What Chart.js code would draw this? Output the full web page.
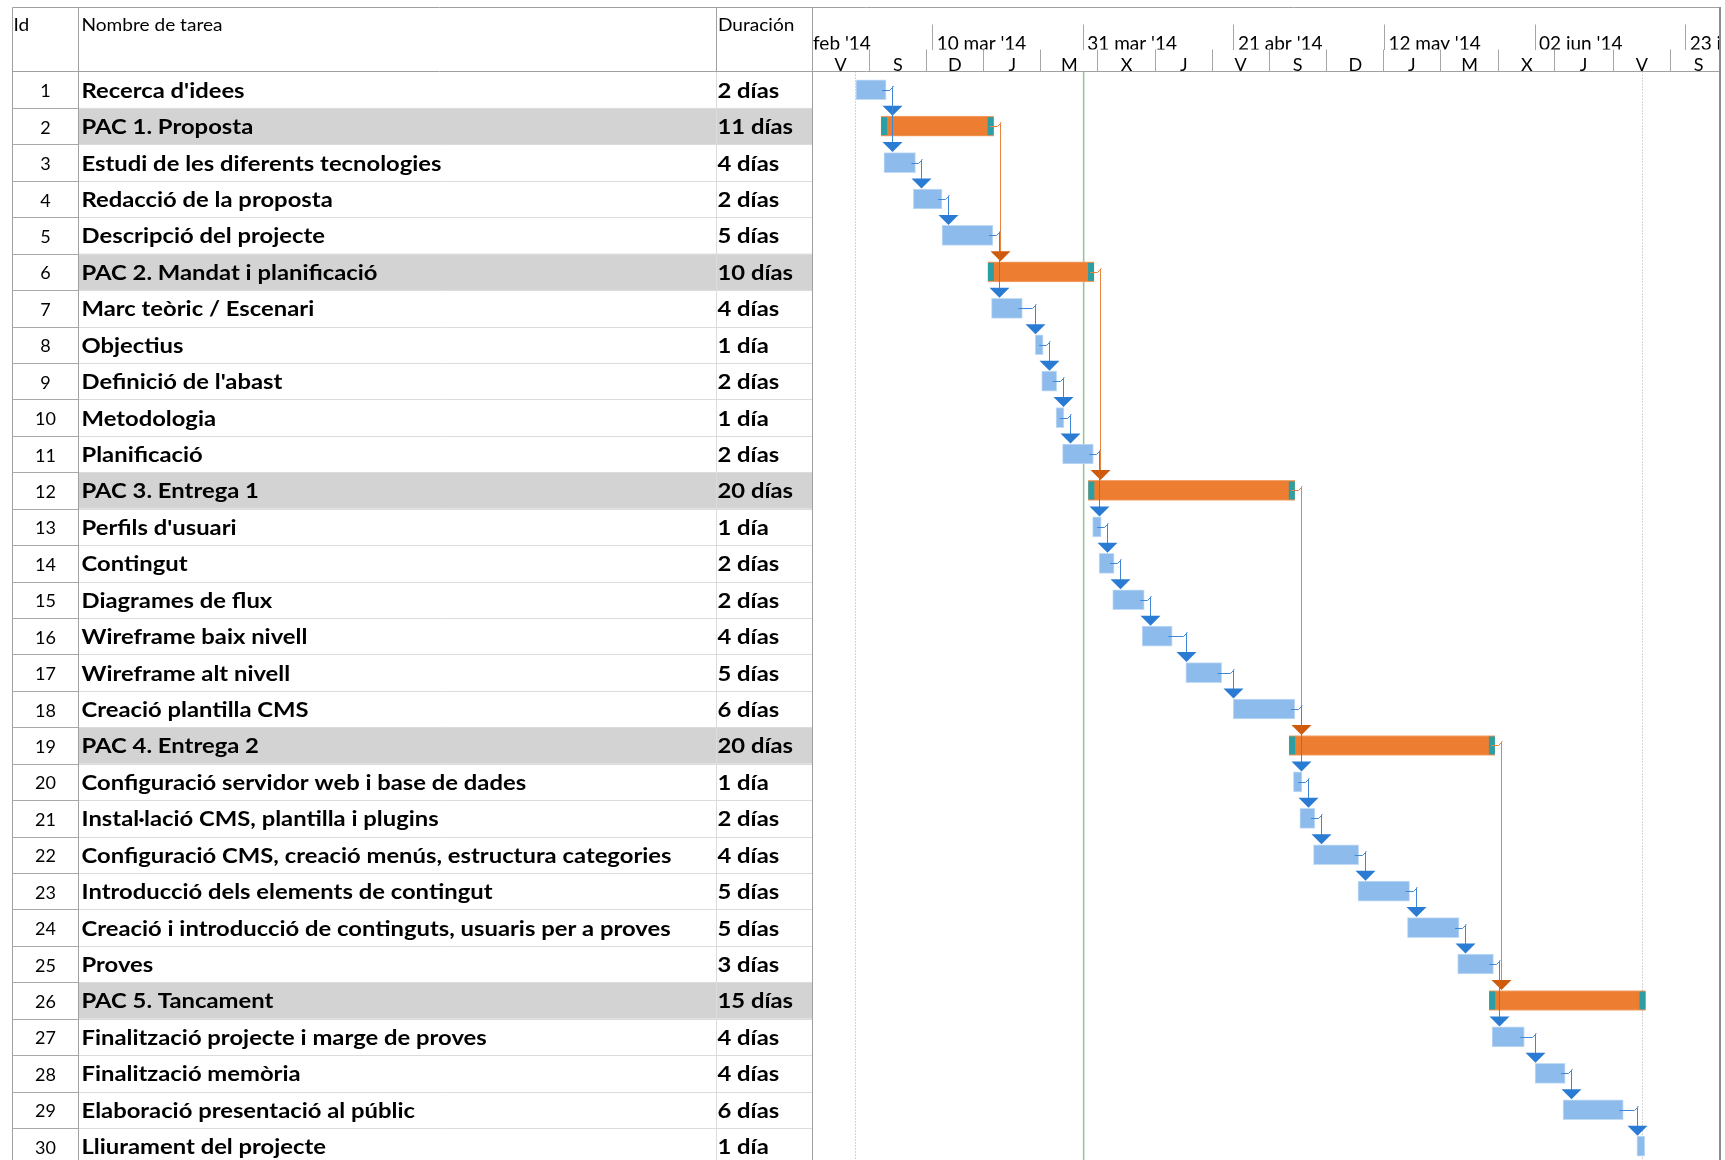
<!DOCTYPE html>
<html>
<head>
<meta charset="utf-8">
<script src="https://cdn.jsdelivr.net/npm/chart.js@4/dist/chart.umd.min.js"></script>
<style>
html,body{margin:0;padding:0;background:#fff;overflow:hidden;}
canvas{display:block;}
</style>
</head>
<body>
<canvas id="c" width="1725" height="1166"></canvas>
<script>
// ---------------- DATA ----------------
const taskIds = [1,2,3,4,5,6,7,8,9,10,11,12,13,14,15,16,17,18,19,20,21,22,23,24,25,26,27,28,29,30];
const taskNames = [
  "Recerca d'idees",
  "PAC 1. Proposta",
  "Estudi de les diferents tecnologies",
  "Redacció de la proposta",
  "Descripció del projecte",
  "PAC 2. Mandat i planificació",
  "Marc teòric / Escenari",
  "Objectius",
  "Definició de l'abast",
  "Metodologia",
  "Planificació",
  "PAC 3. Entrega 1",
  "Perfils d'usuari",
  "Contingut",
  "Diagrames de flux",
  "Wireframe baix nivell",
  "Wireframe alt nivell",
  "Creació plantilla CMS",
  "PAC 4. Entrega 2",
  "Configuració servidor web i base de dades",
  "Instal·lació CMS, plantilla i plugins",
  "Configuració CMS, creació menús, estructura categories",
  "Introducció dels elements de contingut",
  "Creació i introducció de continguts, usuaris per a proves",
  "Proves",
  "PAC 5. Tancament",
  "Finalització projecte i marge de proves",
  "Finalització memòria",
  "Elaboració presentació al públic",
  "Lliurament del projecte"
];
const durations = ["2 días","11 días","4 días","2 días","5 días","10 días","4 días","1 día","2 días","1 día",
  "2 días","20 días","1 día","2 días","2 días","4 días","5 días","6 días","20 días","1 día",
  "2 días","4 días","5 días","5 días","3 días","15 días","4 días","4 días","6 días","1 día"];
const summaryIds = [2,6,12,19,26];
// bar start / end, in days counted from 10 mar '14
const startDays = [-10.7,-7.2,-6.8,-2.7,1.3,7.7,8.2,14.3,15.2,17.2,18.1,21.7,22.3,23.2,25.1,29.2,35.3,41.9,49.7,50.3,51.2,53.1,59.3,66.2,73.2,77.6,78.0,84.0,87.9,98.2];
const endDays   = [-6.5,8.5,-2.4,1.3,8.4,22.5,12.5,15.4,17.3,18.3,22.4,50.5,23.5,25.3,29.5,33.4,40.3,50.5,78.4,51.5,53.3,59.4,66.5,73.4,78.2,99.4,82.5,88.2,96.3,99.3];
// dependency links [predecessor id, successor id]
const links = [[1,2],[1,3],[3,4],[4,5],[2,6],[5,7],[7,8],[8,9],[9,10],[10,11],[6,12],[11,13],[13,14],[14,15],[15,16],[16,17],[17,18],[12,19],[18,20],[20,21],[21,22],[22,23],[23,24],[24,25],[19,26],[25,27],[27,28],[28,29],[29,30]];
// timescale
const majorTickDays = [-21,0,21,42,63,84,105];
const majorTickLabels = ["17 feb '14","10 mar '14","31 mar '14","21 abr '14","12 may '14","02 jun '14","23 jun '14"];
const minorTickDays = [-16.82,-8.84,-0.89,7.11,15.06,23.05,31.04,38.95,46.90,54.94,62.84,70.88,78.87,86.78,94.91,102.82];
const minorTickLabels = ["V","S","D","J","M","X","J","V","S","D","J","M","X","J","V","S"];
const projectStartDay = -10.8;
const projectEndDay = 98.95;
const statusDay = 21.05;
const viewMin = -16.83, viewMax = 109.65;

// ---------------- DRAWING ----------------
const FONT = 'Lato, "Open Sans", sans-serif';
const BAR_T = 20;
const isSummary = id => summaryIds.includes(id);

function fitScale(ctx, font, text, target){
  ctx.save(); ctx.font = font; const w = ctx.measureText(text).width; ctx.restore();
  return target / w;
}
function sText(ctx, text, x, y, sx){
  ctx.save(); ctx.translate(x, y); ctx.scale(sx, 1); ctx.fillText(text, 0, 0); ctx.restore();
}

const ganttPlugin = {
  id: 'gantt',
  beforeDatasetsDraw(chart){
    const ctx = chart.ctx, a = chart.chartArea, ys = chart.scales.y, xs = chart.scales.x;
    const W = chart.width, H = chart.height;
    const rowH = (a.bottom - a.top) / taskIds.length;
    const L = 12.5, colId = 78.5, colDur = 716.5, gL = a.left + 0.5, gR = a.right + 0.5;
    ctx.save();
    // clean table area & overflow
    ctx.fillStyle = '#fff';
    ctx.fillRect(0, 0, a.left, H);
    ctx.fillRect(a.right + 1, 0, W - a.right, H);
    ctx.fillRect(a.left, a.top, a.right - a.left, 7);
    ctx.fillRect(0, 0, W, 7);

    // summary shading
    taskIds.forEach((id, i) => {
      if (!isSummary(id)) return;
      const c = ys.getPixelForValue(i);
      ctx.fillStyle = '#d3d3d3';
      ctx.fillRect(colId + 0.5, c - rowH/2, a.left - colId - 0.5, rowH);
    });
    // row lines
    ctx.lineWidth = 1;
    for (let i = 1; i <= taskIds.length; i++) {
      const y = Math.round(a.top + i * rowH) + 0.5;
      ctx.strokeStyle = '#a9a9a9';
      ctx.beginPath(); ctx.moveTo(L, y); ctx.lineTo(colId, y); ctx.stroke();
      ctx.strokeStyle = '#dcdcdc';
      ctx.beginPath(); ctx.moveTo(colId, y); ctx.lineTo(a.left, y); ctx.stroke();
    }
    // vertical lines
    ctx.strokeStyle = '#dcdcdc';
    ctx.beginPath(); ctx.moveTo(colDur, a.top); ctx.lineTo(colDur, H); ctx.stroke();
    ctx.strokeStyle = '#a0a0a0';
    ctx.beginPath(); ctx.moveTo(colDur, 7.5); ctx.lineTo(colDur, a.top); ctx.stroke();
    ctx.beginPath(); ctx.moveTo(L, 7.5); ctx.lineTo(L, H); ctx.stroke();
    ctx.beginPath(); ctx.moveTo(colId, 7.5); ctx.lineTo(colId, H); ctx.stroke();
    ctx.beginPath(); ctx.moveTo(gL, 7.5); ctx.lineTo(gL, H); ctx.stroke();
    // top border and header bottom
    ctx.beginPath(); ctx.moveTo(L, 7.5); ctx.lineTo(gR + 1, 7.5); ctx.stroke();
    ctx.beginPath(); ctx.moveTo(L, Math.round(a.top) - 0.5); ctx.lineTo(gR + 1, Math.round(a.top) - 0.5); ctx.stroke();
    // right border
    ctx.strokeStyle = '#8c8c8c'; ctx.lineWidth = 2;
    ctx.beginPath(); ctx.moveTo(a.right + 1, 7); ctx.lineTo(a.right + 1, H); ctx.stroke();
    ctx.lineWidth = 1;

    // header text
    ctx.fillStyle = '#000';
    ctx.textBaseline = 'alphabetic';
    const hFont = '17px ' + FONT;
    const hs = fitScale(ctx, hFont, 'Nombre de tarea', 141);
    ctx.font = hFont;
    sText(ctx, 'Id', 13.5, 30.5, hs);
    sText(ctx, 'Nombre de tarea', 81.5, 30.5, hs);
    sText(ctx, 'Duración', 718, 30.5, hs);

    // rows text
    const nFont = 'bold 20px ' + FONT;
    const ns = fitScale(ctx, nFont, taskNames[21], 590);
    const iFont = '18px ' + FONT;
    taskIds.forEach((id, i) => {
      const c = ys.getPixelForValue(i);
      ctx.font = iFont; ctx.textAlign = 'center';
      ctx.fillText(String(id), 45.5, c + 7.5);
      ctx.textAlign = 'left'; ctx.font = nFont;
      sText(ctx, taskNames[i], 81.5, c + 8, ns);
      sText(ctx, durations[i], 717.5, c + 8, ns);
    });

    // project start / end dotted lines
    ctx.strokeStyle = '#a8a8a8'; ctx.setLineDash([1, 2]);
    [projectStartDay, projectEndDay].forEach(d => {
      const x = Math.round(xs.getPixelForValue(d)) + 0.5;
      ctx.beginPath(); ctx.moveTo(x, a.top); ctx.lineTo(x, H); ctx.stroke();
    });
    ctx.setLineDash([]);
    // status (today) line
    ctx.strokeStyle = '#93c789'; ctx.lineWidth = 1.5;
    const sx = xs.getPixelForValue(statusDay);
    ctx.beginPath(); ctx.moveTo(sx, a.top); ctx.lineTo(sx, H); ctx.stroke();
    ctx.restore();
  },
  afterDatasetsDraw(chart){
    const ctx = chart.ctx, ys = chart.scales.y, xs = chart.scales.x;
    ctx.save();
    // teal caps on summary bars
    taskIds.forEach((id, i) => {
      if (!isSummary(id)) return;
      const x1 = xs.getPixelForValue(startDays[i]), x2 = xs.getPixelForValue(endDays[i]);
      const c = ys.getPixelForValue(i);
      ctx.fillStyle = '#2b9fa4';
      ctx.fillRect(x1, c - BAR_T/2 + 1, 6, BAR_T - 2);
      ctx.fillRect(x2 - 6, c - BAR_T/2 + 1, 6, BAR_T - 2);
    });
    // dependency links
    links.forEach(([from, to]) => {
      const fi = taskIds.indexOf(from), ti = taskIds.indexOf(to);
      const pe = xs.getPixelForValue(endDays[fi]);
      const py = ys.getPixelForValue(fi);
      const ss = xs.getPixelForValue(startDays[ti]);
      const st = ys.getPixelForValue(ti) - BAR_T/2;
      const vx = Math.round(Math.max(pe + 6, ss)) + 0.5;
      const orange = isSummary(from) && isSummary(to);
      ctx.strokeStyle = orange ? '#e8843f' : '#3f88d8';
      ctx.fillStyle = orange ? '#cf5a0d' : '#2a7bd3';
      ctx.lineWidth = 1;
      const hy = Math.round(py) + 0.5;
      ctx.beginPath(); ctx.moveTo(pe - 4, hy); ctx.lineTo(vx - 3, hy); ctx.lineTo(vx + 1, hy - 4); ctx.stroke();
      ctx.beginPath(); ctx.moveTo(vx, hy - 4); ctx.lineTo(vx, st - 9); ctx.stroke();
      ctx.beginPath();
      ctx.moveTo(vx - 10, st - 10.5); ctx.lineTo(vx + 10, st - 10.5); ctx.lineTo(vx, st - 0.5); ctx.closePath();
      ctx.fill();
    });
    ctx.restore();
  }
};

function fitAxis(h){
  return s => { s.height = h; s.paddingLeft = 0; s.paddingRight = 0; s.paddingTop = 0; s.paddingBottom = 0; };
}

new Chart(document.getElementById('c'), {
  type: 'bar',
  data: {
    labels: taskIds.map(String),
    datasets: [
      {
        label: 'Tareas',
        data: taskIds.map((id, i) => isSummary(id) ? null : [startDays[i], endDays[i]]),
        backgroundColor: '#8dbbec', borderColor: '#c3dcf6', borderWidth: 1, borderSkipped: false,
        barThickness: BAR_T, grouped: false, xAxisID: 'x', yAxisID: 'y'
      },
      {
        label: 'Resumen',
        data: taskIds.map((id, i) => isSummary(id) ? [startDays[i], endDays[i]] : null),
        backgroundColor: '#ed7d31', borderColor: '#f3a56e', borderWidth: 1, borderSkipped: false,
        barThickness: BAR_T, grouped: false, xAxisID: 'x', yAxisID: 'y'
      }
    ]
  },
  options: {
    indexAxis: 'y',
    responsive: false,
    animation: false,
    devicePixelRatio: 1,
    events: [],
    layout: { autoPadding: false, padding: { left: 812, right: 6, top: 7, bottom: 1.6 } },
    plugins: { legend: { display: false }, tooltip: { enabled: false } },
    scales: {
      y: { type: 'category', display: false, offset: true, grid: { display: false } },
      x: {
        type: 'linear', position: 'top', bounds: 'data', min: viewMin, max: viewMax, weight: 1,
        afterFit: fitAxis(22),
        afterBuildTicks: s => { s.ticks = minorTickDays.map(v => ({ value: v })); },
        grid: { drawOnChartArea: false, drawTicks: true, tickLength: 22, color: '#a6a6a6', lineWidth: 1 },
        border: { display: false },
        ticks: {
          autoSkip: false, maxRotation: 0, minRotation: 0, labelOffset: 28.6, padding: -26,
          color: '#000', font: { family: FONT, size: 18 },
          callback: (v, i) => minorTickLabels[i]
        }
      },
      xMajor: {
        type: 'linear', position: 'top', bounds: 'data', min: viewMin, max: viewMax, weight: 2,
        afterFit: fitAxis(42.5),
        afterBuildTicks: s => { s.ticks = majorTickDays.map(v => ({ value: v })); },
        grid: { drawOnChartArea: false, drawTicks: true, tickLength: 25, color: '#a6a6a6', lineWidth: 1 },
        border: { display: false },
        ticks: {
          autoSkip: false, maxRotation: 0, minRotation: 0, align: 'start', labelOffset: 4, padding: -31,
          color: '#000', font: { family: FONT, size: 19 },
          callback: (v, i) => majorTickLabels[i]
        }
      }
    }
  },
  plugins: [ganttPlugin]
});
</script>
</body>
</html>
